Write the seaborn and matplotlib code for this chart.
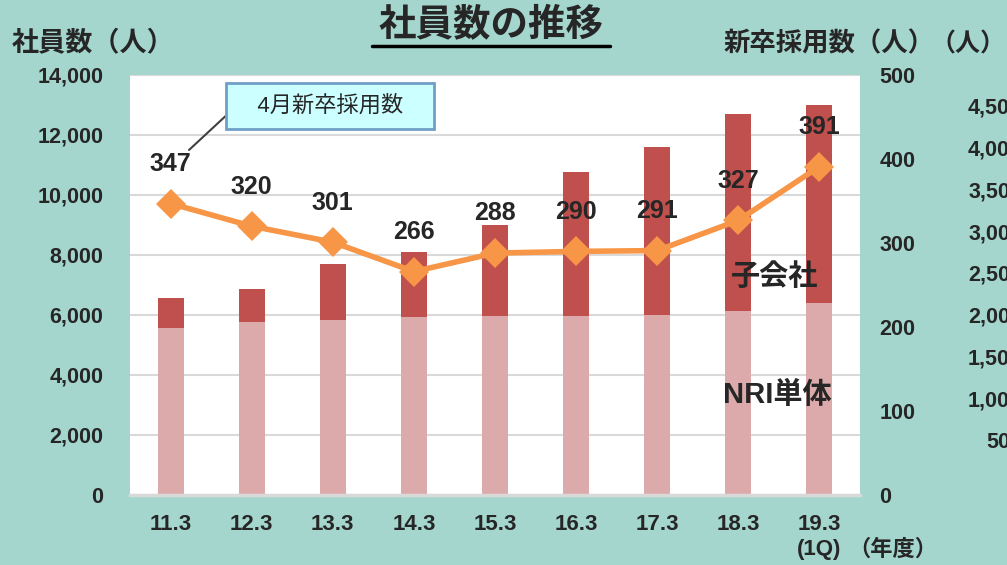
import numpy as np
import matplotlib
matplotlib.use("Agg")
import matplotlib.pyplot as plt
import seaborn as sns
from matplotlib.lines import Line2D

# data
years = ["11.3", "12.3", "13.3", "14.3", "15.3", "16.3", "17.3", "18.3", "19.3"]
tick_labels = ["11.3", "12.3", "13.3", "14.3", "15.3", "16.3", "17.3", "18.3", "19.3\n(1Q)"]
nri = [5570, 5770, 5830, 5930, 5970, 5970, 6000, 6130, 6400]          # NRI単体
subsidiary = [1000, 1100, 1870, 2170, 3030, 4800, 5600, 6570, 6600]   # 子会社
hires = [347, 320, 301, 266, 288, 290, 291, 327, 391]                 # 4月新卒採用数
third_ticks = [500, 1000, 1500, 2000, 2500, 3000, 3500, 4000, 4500]

BG = "#A4D6CE"
RED = "#C0504D"
PINK = "#DCAAAB"
ORANGE = "#F79646"

sns.set_style("white")
plt.rcParams["font.family"] = ["Liberation Sans", "Noto Sans CJK JP"]

W, H = 1007, 565
fig = plt.figure(figsize=(W / 100, H / 100), dpi=100, facecolor=BG)

# plot box in pixels (x 130..860, y 75..495)
L, R, T, B = 130, 860, 75, 495
ax = fig.add_axes([L / W, (H - B) / H, (R - L) / W, (B - T) / H])
ax.set_facecolor("white")


def ax_frac(px, py):
    return (px - L) / (R - L), (B - py) / (B - T)


total = np.array(nri) + np.array(subsidiary)
sns.barplot(x=years, y=total, color=RED, width=0.32, saturation=1, linewidth=0, ax=ax)
sns.barplot(x=years, y=nri, color=PINK, width=0.32, saturation=1, linewidth=0, ax=ax)

ax.set_xlim(-0.5, len(years) - 0.5)
ax.set_ylim(0, 14000)
ax.set_yticks(range(0, 14001, 2000))
ax.set_yticklabels([f"{v:,}" for v in range(0, 14001, 2000)])
ax.set_xticks(range(len(years)))
ax.set_xticklabels(tick_labels)
ax.yaxis.grid(True, color="#D9D9D9", lw=1.5)
ax.set_axisbelow(True)
ax.set_xlabel("")
ax.set_ylabel("")
for s in ["left", "right", "top"]:
    ax.spines[s].set_visible(False)
ax.spines["bottom"].set_color("#D9D9D9")
ax.spines["bottom"].set_linewidth(2.5)
ax.tick_params(axis="y", length=0, pad=19, labelsize=15.5)
ax.tick_params(axis="x", length=0, pad=14, labelsize=16)
for lab in ax.get_xticklabels() + ax.get_yticklabels():
    lab.set_fontweight("bold")

# new graduate hires on the secondary axis
ax2 = ax.twinx()
sns.lineplot(x=np.arange(len(hires)), y=hires, ax=ax2, color=ORANGE, lw=4,
             marker="D", markersize=15, markeredgewidth=0)
ax2.set_ylim(0, 500)
ax2.set_yticks(range(0, 501, 100))
ax2.set_ylabel("")
for s in ax2.spines.values():
    s.set_visible(False)
ax2.tick_params(axis="y", length=0, pad=14, labelsize=15.5)
for lab in ax2.get_yticklabels():
    lab.set_fontweight("bold")
for i, v in enumerate(hires):
    ax2.annotate(str(v), (i, v), xytext=(0, 28.5), textcoords="offset points",
                 ha="center", va="center", fontsize=18, fontweight="bold")

# third axis, cut off at the right edge (labels right-aligned past the border)
ax3 = ax.twinx()
ax3.spines["right"].set_position(("axes", (1022 - L) / (R - L)))
for s in ax3.spines.values():
    s.set_visible(False)
ax3.set_ylim(-160, 4870)
ax3.set_yticks(third_ticks)
ax3.set_yticklabels([f"{v:,}" for v in third_ticks])
ax3.tick_params(axis="y", length=0, pad=0, labelsize=15.5)
for lab in ax3.get_yticklabels():
    lab.set_fontweight("bold")
    lab.set_horizontalalignment("right")

# labels inside the plot
ax.text(*ax_frac(775, 277), "子会社", transform=ax.transAxes, ha="center", va="center",
        fontsize=21, fontweight="bold", zorder=5)
ax.text(*ax_frac(777, 395), "NRI単体", transform=ax.transAxes, ha="center", va="center",
        fontsize=21, fontweight="bold", zorder=5)

ax2.annotate("   4月新卒採用数   ", xy=ax_frac(189, 150), xytext=ax_frac(330, 106),
             xycoords="axes fraction", textcoords="axes fraction",
             ha="center", va="center", fontsize=16,
             bbox=dict(boxstyle="square,pad=0.55", fc="#CCFFFF", ec="#6F9FC8", lw=2),
             arrowprops=dict(arrowstyle="-", color="#404040", lw=1.5,
                             relpos=(0, 0.6), shrinkA=0, shrinkB=0))

ax.text(*ax_frac(893, 550), "（年度）", transform=ax.transAxes, ha="center", va="center",
        fontsize=16, fontweight="bold")

# title and axis headers
fig.text(491 / W, 1 - 26 / H, "社員数の推移", ha="center", va="center",
         fontsize=27, fontweight="bold")
fig.add_artist(Line2D([372 / W, 610 / W], [1 - 46 / H, 1 - 46 / H], color="black", lw=2.5))
fig.text(12 / W, 1 - 44 / H, "社員数（人）", ha="left", va="center", fontsize=19.5, fontweight="bold")
fig.text(935 / W, 1 - 44 / H, "新卒採用数（人）", ha="right", va="center", fontsize=19, fontweight="bold")
fig.text(1005 / W, 1 - 44 / H, "（人）", ha="right", va="center", fontsize=18, fontweight="bold")

fig.savefig("out.png", dpi=100, facecolor=BG)
